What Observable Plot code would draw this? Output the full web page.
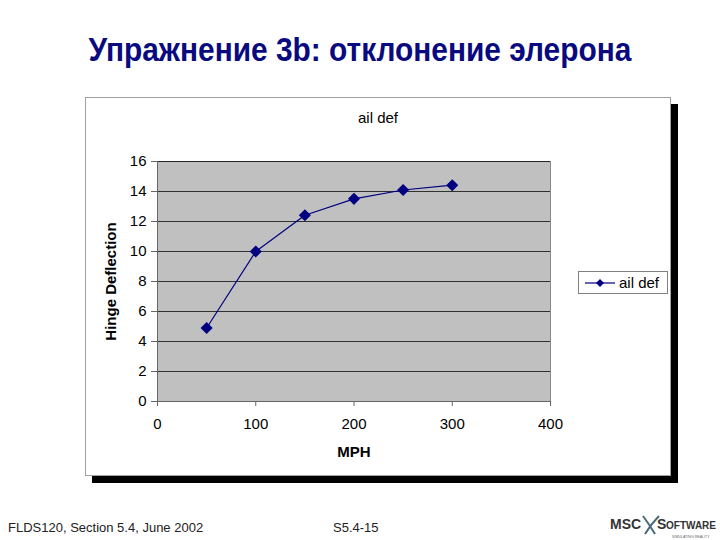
<!DOCTYPE html>
<html>
<head>
<meta charset="utf-8">
<script src="https://cdn.jsdelivr.net/npm/d3@7"></script>
<script src="https://cdn.jsdelivr.net/npm/@observablehq/plot@0.6"></script>
<style>
  html, body { margin: 0; padding: 0; background: #fff; }
  #page { position: relative; width: 720px; height: 540px; overflow: hidden; font-family: "Liberation Sans", Arial, sans-serif; }
  #title { position: absolute; left: 0; top: 31px; width: 720px; text-align: center; font-weight: bold; font-size: 33px; line-height: 38px; color: #0a0a80; transform: scaleX(0.905); transform-origin: 359px 0; }
  #chartbox { position: absolute; left: 85px; top: 97px; width: 584px; height: 377px; background: #fff; border: 1px solid #a0a0a0; box-shadow: 7px 7px 0 #000; }
  #chart { position: absolute; left: 0; top: 0; z-index: 1; }
  #subtitle { position: absolute; left: 85px; width: 586px; top: 109px; text-align: center; font-size: 15px; z-index: 2; }
  #legend { position: absolute; left: 578px; top: 271px; width: 88px; height: 21px; border: 1px solid #808080; background: #fff; z-index: 2; font-size: 15px; }
  #legend svg { position: absolute; left: 4px; top: 4px; }
  #legend span { position: absolute; left: 40px; top: 2px; }
  .foot { position: absolute; top: 520px; font-size: 13px; color: #222; }
  #logo { position: absolute; left: 610px; top: 514px; width: 108px; height: 26px; }
  [aria-label="y-axis label"], [aria-label="x-axis label"] { font-weight: bold; }
</style>
</head>
<body>
<div id="page">
  <div id="title"></div>
  <div id="chartbox"></div>
  <div id="subtitle"></div>
  <div id="chart"></div>
  <div id="legend">
    <svg width="34" height="14"><line x1="2" y1="7" x2="32" y2="7" stroke="#000080" stroke-width="1.2"/><path d="M17,3 L21,7 L17,11 L13,7 Z" fill="#000080"/></svg>
    <span id="legendText"></span>
  </div>
  <div class="foot" id="foot1" style="left:8px"></div>
  <div class="foot" id="foot2" style="left:333px"></div>
  <svg id="logo" viewBox="0 0 108 26">
    <text x="0" y="15" font-family="Liberation Sans, Arial" font-weight="bold" font-size="14" fill="#333">MSC</text>
    <path d="M33,2 Q39,10 45,20 M35,20 Q41,10 49,2" stroke="#4a6a7a" stroke-width="2" fill="none"/>
    <text x="47" y="15" font-family="Liberation Sans, Arial" font-weight="bold" font-size="14" fill="#333">S</text>
    <text x="56" y="15" font-family="Liberation Sans, Arial" font-weight="bold" font-size="10" fill="#333">OFTWARE</text>
    <text x="62" y="24" font-family="Liberation Sans, Arial" font-size="3.6" fill="#666">SIMULATING REALITY</text>
  </svg>
</div>
<script>
const pageTitle = "Упражнение 3b: отклонение элерона";
const chartTitle = "ail def";
const seriesName = "ail def";
const xLabel = "MPH";
const yLabel = "Hinge Deflection";
const footLeft = "FLDS120, Section 5.4, June 2002";
const footCenter = "S5.4-15";

const mph = [50, 100, 150, 200, 250, 300];
const deflection = [4.9, 10.0, 12.42, 13.51, 14.1, 14.42];
const xTicks = [0, 100, 200, 300, 400];
const yTicks = [0, 2, 4, 6, 8, 10, 12, 14, 16];

const data = mph.map((x, i) => ({x, y: deflection[i]}));

document.getElementById("title").textContent = pageTitle;
document.getElementById("subtitle").textContent = chartTitle;
document.getElementById("legendText").textContent = seriesName;
document.getElementById("foot1").textContent = footLeft;
document.getElementById("foot2").textContent = footCenter;

const navy = "#000080";

const chart = Plot.plot({
  width: 720,
  height: 540,
  marginLeft: 157,
  marginRight: 170,
  marginTop: 161,
  marginBottom: 139,
  style: {background: "transparent", fontFamily: "Liberation Sans, Arial, sans-serif", fontSize: "15px", color: "#000", overflow: "visible"},
  x: {domain: [0, 400]},
  y: {domain: [0, 16]},
  marks: [
    Plot.frame({fill: "#c0c0c0", stroke: "#888"}),
    Plot.gridY(yTicks, {stroke: "#000", strokeOpacity: 0.75, strokeWidth: 1}),
    Plot.ruleX([0], {stroke: "#666"}),
    Plot.ruleY([0], {stroke: "#666"}),
    Plot.axisY({ticks: yTicks, tickSize: 6, tickPadding: 5, fontSize: 15, stroke: "#666",
      label: yLabel, labelAnchor: "center", labelArrow: "none", labelOffset: 52}),
    Plot.axisX({ticks: xTicks, tickSize: 5, tickPadding: 12, fontSize: 15, stroke: "#666",
      label: xLabel, labelAnchor: "center", labelArrow: "none", labelOffset: 55}),
    Plot.line(data, {x: "x", y: "y", stroke: navy, strokeWidth: 1.2}),
    Plot.dot(data, {x: "x", y: "y", symbol: "diamond2", r: 4.5, fill: navy, stroke: navy})
  ]
});
document.getElementById("chart").appendChild(chart);
</script>
</body>
</html>
